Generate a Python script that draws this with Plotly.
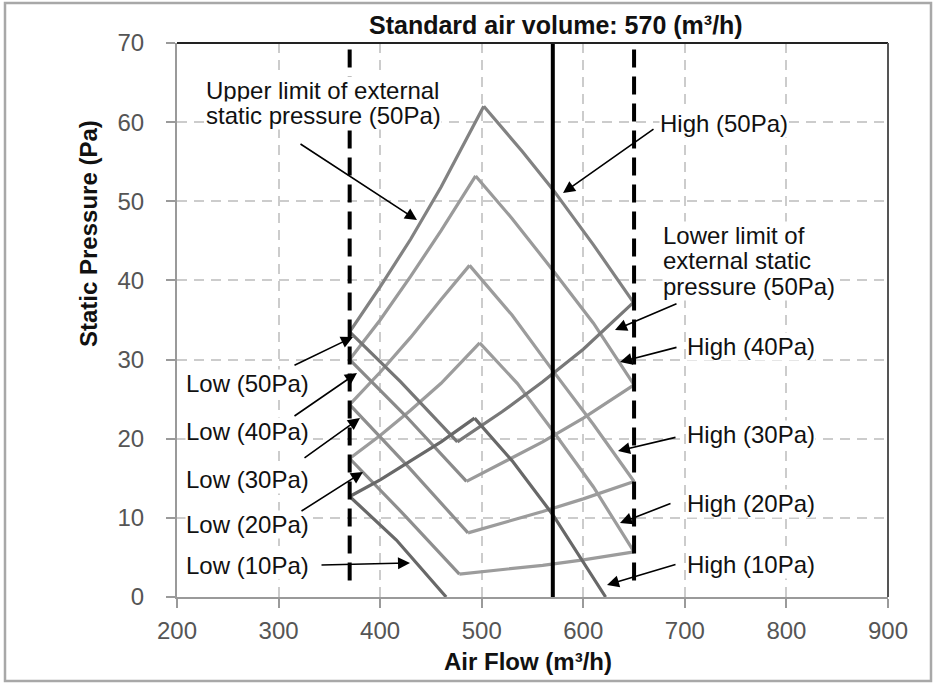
import plotly.graph_objects as go

# ---------------- data ----------------
settings = ["10Pa", "20Pa", "30Pa", "40Pa", "50Pa"]

# Upper limit of external static pressure (system curves, ascending)
upper_x = [
    [370, 400, 430, 460, 493],
    [370, 400, 430, 460, 498],
    [370, 400, 430, 460, 488],
    [370, 400, 430, 460, 494],
    [370, 400, 430, 460, 502],
]
upper_y = [
    [12.7, 14.8, 17.2, 19.6, 22.6],
    [17.5, 20.4, 23.6, 27.0, 32.1],
    [24.3, 28.4, 32.8, 37.6, 41.9],
    [30.0, 35.0, 40.5, 46.3, 53.2],
    [33.5, 39.2, 45.2, 51.8, 62.0],
]

# High fan curves (descending from the peak)
high_x = [
    [493, 530, 570, 600, 622],
    [498, 535, 570, 610, 650],
    [488, 530, 570, 610, 650],
    [494, 530, 570, 610, 650],
    [502, 540, 570, 610, 649],
]
high_y = [
    [22.6, 17.2, 10.4, 4.3, 0.0],
    [32.1, 27.0, 21.0, 13.9, 5.7],
    [41.9, 35.6, 28.6, 21.8, 14.6],
    [53.2, 47.8, 41.3, 34.6, 26.8],
    [62.0, 56.3, 51.5, 44.5, 37.3],
]

# Low fan curves (descending from the lower flow limit)
low_x = [
    [370, 416, 465],
    [370, 425, 478],
    [370, 428, 486.5],
    [370, 425, 485],
    [370, 420, 476],
]
low_y = [
    [12.7, 7.2, 0.0],
    [17.5, 10.2, 2.9],
    [24.3, 16.4, 8.1],
    [30.0, 22.9, 14.6],
    [33.5, 27.2, 19.6],
]

# Lower limit of external static pressure (system curves, ascending); none visible for 10Pa
lower_x = [
    [],
    [478, 520, 560, 600, 650],
    [486.5, 520, 560, 600, 650],
    [485, 520, 560, 600, 650],
    [476, 520, 560, 600, 650],
]
lower_y = [
    [],
    [2.9, 3.5, 4.0, 4.7, 5.7],
    [8.1, 9.3, 10.8, 12.4, 14.6],
    [14.6, 16.9, 19.6, 22.6, 26.8],
    [19.6, 23.4, 27.2, 31.3, 37.3],
]

lower_flow_limit = 370
upper_flow_limit = 650
standard_air_volume = 570

x_ticks = [200, 300, 400, 500, 600, 700, 800, 900]
y_ticks = [0, 10, 20, 30, 40, 50, 60, 70]

# ---------------- styling ----------------
FONT = "Liberation Sans, Arial, sans-serif"
W, H = 933, 684
ML, MR, MT, MB = 177, 45, 43, 87
PW, PH = W - ML - MR, H - MT - MB


def dx(px):
    return 200 + (px - ML) * 700.0 / PW


def dy(py):
    return (MT + PH - py) * 70.0 / PH


def paper_x(px):
    return (px - ML) / PW


def paper_y(py):
    return (MT + PH - py) / PH


colors = {
    "10Pa": ("#686868", "#686868", "#686868", "#686868"),
    "20Pa": ("#9c9c9c", "#9c9c9c", "#8e8e8e", "#9c9c9c"),
    "30Pa": ("#9c9c9c", "#9c9c9c", "#8e8e8e", "#9c9c9c"),
    "40Pa": ("#9a9a9a", "#9a9a9a", "#8a8a8a", "#9a9a9a"),
    "50Pa": ("#828282", "#828282", "#767676", "#787878"),
}

fig = go.Figure()
order = [1, 2, 3, 4, 0]
for i in order:
    s = settings[i]
    cu, ch, cl, clo = colors[s]
    fig.add_trace(go.Scatter(x=upper_x[i], y=upper_y[i], mode="lines",
                             line=dict(color=cu, width=3.2), name=f"Upper limit {s}"))
    fig.add_trace(go.Scatter(x=high_x[i], y=high_y[i], mode="lines",
                             line=dict(color=ch, width=3.2), name=f"High {s}"))
    fig.add_trace(go.Scatter(x=low_x[i], y=low_y[i], mode="lines",
                             line=dict(color=cl, width=3.2), name=f"Low {s}"))
    if lower_x[i]:
        fig.add_trace(go.Scatter(x=lower_x[i], y=lower_y[i], mode="lines",
                                 line=dict(color=clo, width=3.2), name=f"Lower limit {s}"))

# vertical reference lines
for xv in (lower_flow_limit, upper_flow_limit):
    fig.add_shape(type="line", xref="x", yref="y", x0=xv, x1=xv, y0=2.1, y1=70,
                  line=dict(color="black", width=4, dash="18px,9px"), layer="above")
fig.add_shape(type="line", xref="x", yref="y", x0=standard_air_volume, x1=standard_air_volume,
              y0=0, y1=70, line=dict(color="black", width=4), layer="above")

# frame: top and right borders of plot area
fig.add_shape(type="line", xref="paper", yref="paper", x0=0, x1=1, y0=1, y1=1,
              line=dict(color="#222222", width=2))
fig.add_shape(type="line", xref="paper", yref="paper", x0=1, x1=1, y0=0, y1=1,
              line=dict(color="#555555", width=2))
# outer border of the picture
fig.add_shape(type="rect", xref="paper", yref="paper",
              x0=paper_x(5), x1=paper_x(931), y0=paper_y(681), y1=paper_y(3),
              line=dict(color="#a8a8a8", width=2.5))

ann_font = dict(family=FONT, size=24, color="#111111")

labels = [
    ("Upper limit of external", 205, 90),
    ("static pressure (50Pa)", 205, 116),
    ("High (50Pa)", 659, 124),
    ("Lower limit of", 662, 236),
    ("external static", 662, 260),
    ("pressure (50Pa)", 662, 286),
    ("High (40Pa)", 686, 346),
    ("High (30Pa)", 686, 434),
    ("High (20Pa)", 686, 503),
    ("High (10Pa)", 686, 564),
    ("Low (50Pa)", 185, 383),
    ("Low (40Pa)", 185, 431),
    ("Low (30Pa)", 185, 479),
    ("Low (20Pa)", 185, 524),
    ("Low (10Pa)", 185, 565),
]
for txt, lx, ly in labels:
    fig.add_annotation(text=txt, x=paper_x(lx), y=paper_y(ly), xref="paper", yref="paper",
                       xanchor="left", yanchor="middle", showarrow=False, font=ann_font,
                       bgcolor="white", borderpad=0)

arrows = [
    ((299, 143), (417, 220)),
    ((655, 128), (563, 193)),
    ((678, 303), (615, 330)),
    ((678, 347), (620, 362)),
    ((677, 437), (618, 451)),
    ((672, 503), (620, 523)),
    ((677, 564), (607, 585)),
    ((293, 366), (353, 337)),
    ((293, 417), (357, 373)),
    ((303, 459), (360, 418)),
    ((300, 512), (363, 472)),
    ((320, 565), (410, 563)),
]
for (tx, ty), (hx, hy) in arrows:
    fig.add_annotation(text="", x=dx(hx), y=dy(hy), xref="x", yref="y",
                       ax=dx(tx), ay=dy(ty), axref="x", ayref="y",
                       showarrow=True, arrowhead=2, arrowsize=1.5, arrowwidth=1.6,
                       arrowcolor="black", standoff=0, startstandoff=0)

# titles
fig.add_annotation(text="<b>Standard air volume: 570 (m³/h)</b>", x=dx(556), y=paper_y(25),
                   xref="x", yref="paper", showarrow=False, xanchor="center", yanchor="middle",
                   font=dict(family=FONT, size=25, color="#111111"))
fig.add_annotation(text="<b>Air Flow (m³/h)</b>", x=paper_x(528), y=paper_y(662),
                   xref="paper", yref="paper", showarrow=False, xanchor="center", yanchor="middle",
                   font=dict(family=FONT, size=24, color="#111111"))
fig.add_annotation(text="<b>Static Pressure (Pa)</b>", x=paper_x(88), y=paper_y(234),
                   xref="paper", yref="paper", showarrow=False, xanchor="center", yanchor="middle",
                   textangle=-90, font=dict(family=FONT, size=24, color="#111111"))

axis_common = dict(showline=True, linecolor="#9a9a9a", linewidth=2,
                   ticks="outside", ticklen=9, tickwidth=2, tickcolor="#9a9a9a",
                   showgrid=True, gridcolor="#cccccc", gridwidth=1.5, griddash="10px,7px",
                   zeroline=False, tickfont=dict(family=FONT, size=24, color="#555555"))

fig.update_xaxes(range=[200, 900], tickvals=x_ticks, ticktext=[str(v) for v in x_ticks],
                 ticklabelstandoff=2, **axis_common)
fig.update_yaxes(range=[0, 70], tickvals=y_ticks, ticktext=[str(v) for v in y_ticks],
                 ticklabelstandoff=17, **axis_common)

fig.update_layout(width=W, height=H, margin=dict(l=ML, r=MR, t=MT, b=MB),
                  plot_bgcolor="white", paper_bgcolor="white", showlegend=False,
                  font=dict(family=FONT))

fig.write_html("out.html", config={"displayModeBar": False},
               post_script="document.body.style.margin='0px';document.body.style.overflow='hidden';")
